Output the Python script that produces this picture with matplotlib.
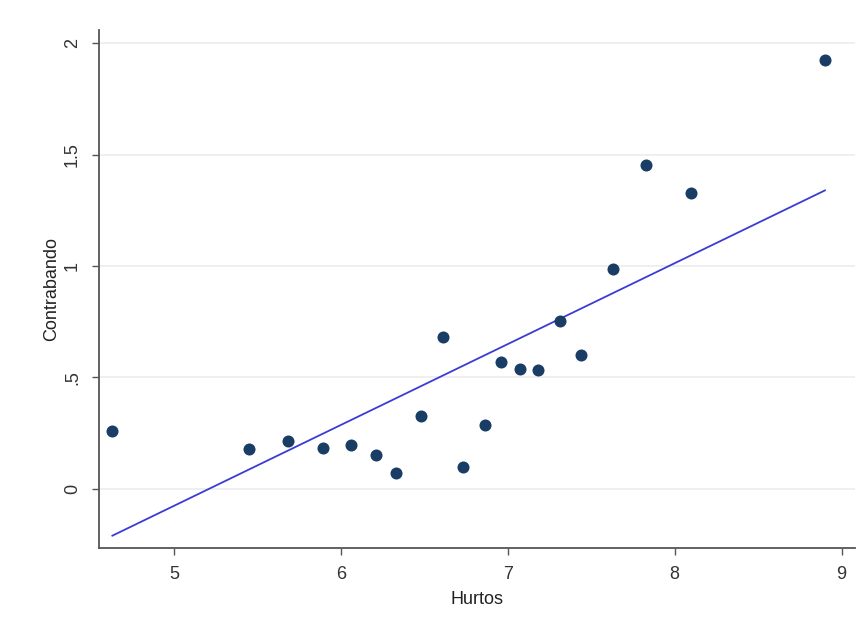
import numpy as np
import matplotlib
matplotlib.use("Agg")
import matplotlib.pyplot as plt

plt.rcParams['font.family'] = ['Liberation Sans', 'DejaVu Sans']

hurtos = [4.63, 5.45, 5.68, 5.89, 6.06, 6.21, 6.33, 6.48, 6.61, 6.73,
          6.86, 6.96, 7.07, 7.18, 7.31, 7.44, 7.63, 7.83, 8.10, 8.90]
contrabando = [0.26, 0.18, 0.215, 0.185, 0.197, 0.152, 0.072, 0.327, 0.68, 0.10,
               0.287, 0.57, 0.54, 0.534, 0.753, 0.60, 0.987, 1.453, 1.327, 1.924]
# fitted line as shown in the chart
fit_slope = 0.363
fit_intercept = -1.891
x_ticks = [5, 6, 7, 8, 9]
y_ticks = [0, 0.5, 1, 1.5, 2]
y_tick_labels = ["0", ".5", "1", "1.5", "2"]

x = np.array(hurtos)
y = np.array(contrabando)
xl = np.array([x.min(), x.max()])

fig = plt.figure(figsize=(8.61, 6.24), dpi=100)
fig.patch.set_facecolor('white')
ax = fig.add_axes([0.115, 0.122, 0.878, 0.83])

ax.set_xlim(4.55, 9.08)
ax.set_ylim(-0.265, 2.06)
for t in y_ticks:
    ax.axhline(t, color='#ececec', lw=1.2, zorder=0)

ax.plot(xl, fit_intercept + fit_slope * xl, color='#3b3bd6', lw=1.3, zorder=2)
ax.scatter(x, y, s=75, color='#1a3d66', zorder=3, linewidths=0)

ax.set_xticks(x_ticks)
ax.set_yticks(y_ticks)
ax.set_yticklabels(y_tick_labels, rotation=90, va='center')
ax.tick_params(axis='both', direction='out', length=5, width=1, color='#555555',
               labelsize=13, labelcolor='#333333', pad=8)
for s in ['top', 'right']:
    ax.spines[s].set_visible(False)
for s in ['left', 'bottom']:
    ax.spines[s].set_color('#555555')
    ax.spines[s].set_linewidth(1.3)

ax.set_xlabel('Hurtos', fontsize=13, color='#222222', labelpad=6)
ax.set_ylabel('Contrabando', fontsize=13, color='#222222', labelpad=3)

fig.savefig('out.png', dpi=100)
